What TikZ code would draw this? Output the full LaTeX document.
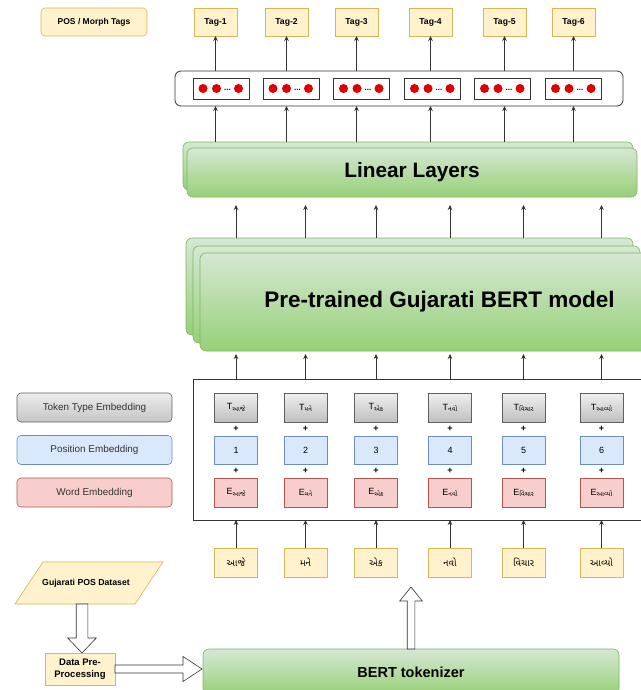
\documentclass[tikz,border=0pt]{standalone}
\usepackage{fontspec}
\setmainfont{Liberation Sans}
\newfontfamily\guj[Script=Gujarati]{Noto Sans Gujarati UI}
\usetikzlibrary{calc,arrows.meta}
\definecolor{yfill}{HTML}{FFF2CC}
\definecolor{ydraw}{HTML}{D6B656}
\definecolor{bfill}{HTML}{DAE8FC}
\definecolor{bdraw}{HTML}{6C8EBF}
\definecolor{rfill}{HTML}{F8CECC}
\definecolor{rdraw}{HTML}{B85450}
\definecolor{gtop}{HTML}{D5E8D4}
\definecolor{gbot}{HTML}{97D077}
\definecolor{gdraw}{HTML}{82B366}
\definecolor{dotred}{HTML}{E00000}
\definecolor{ln}{HTML}{333333}
\tikzset{
  every node/.style={inner sep=0pt, outer sep=0pt},
  arr/.style={draw=ln, line width=0.75pt, -{Stealth[length=5pt,width=4.5pt]}},
  ybox/.style={draw=ydraw, fill=yfill, line width=0.6pt, font=\fontsize{8.6}{11}\selectfont\bfseries},
  wbox/.style={draw=ydraw, fill=yfill, line width=0.6pt, minimum width=43pt, minimum height=29pt, font=\fontsize{9.5}{11}\selectfont\guj},
  tbox/.style={draw=gray!75!black, top color=gray!12, bottom color=gray!50, line width=0.6pt, minimum width=43pt, minimum height=29pt, font=\fontsize{9}{11}\selectfont},
  pbox/.style={draw=bdraw, fill=bfill, line width=0.6pt, minimum width=43pt, minimum height=28pt, font=\fontsize{9}{11}\selectfont},
  ebox/.style={draw=rdraw, fill=rfill, line width=0.6pt, minimum width=43pt, minimum height=29pt, font=\fontsize{9}{11}\selectfont},
  legend/.style={rounded corners=4pt, line width=0.6pt, minimum width=155pt, minimum height=29pt, font=\fontsize{9.9}{11}\selectfont, text=ln},
  green/.style={draw=gdraw, top color=gtop, bottom color=gbot, rounded corners=6pt, line width=0.6pt},
  dotbox/.style={draw=ln, line width=0.8pt, minimum width=56pt, minimum height=21pt},
  hollow/.style={draw=ln, fill=white, line width=0.6pt},
  plus/.style={font=\fontsize{9}{11}\selectfont\bfseries}
}
\newcommand{\sub}[2]{#1\raisebox{-0.25ex}{\fontsize{6.5}{7}\selectfont\guj #2}}
\begin{document}
\begin{tikzpicture}[x=1pt,y=-1pt]
\useasboundingbox (0,0) rectangle (640,690);
\fill[white] (0,0) rectangle (640,690);

% ---- top tags
\node[ybox, rounded corners=4pt, minimum width=106pt, minimum height=28pt, font=\fontsize{8.5}{11}\selectfont\bfseries] (postags) at (94,22) {POS / Morph Tags};
\foreach \i/\x in {1/215.5,2/286.5,3/356.5,4/430.5,5/504.5,6/573.5}{
  \node[ybox, minimum width=43pt, minimum height=28pt] (tag\i) at (\x,22) {Tag-\i};
}

% ---- dots container
\node[draw=ln, line width=0.8pt, rounded corners=6pt, minimum width=448pt, minimum height=35pt] (dots) at (399,88.5) {};
\foreach \i/\x in {1/221,2/291,3/361.5,4/432.5,5/502.5,6/573.5}{
  \node[dotbox] (db\i) at (\x,88.5) {};
  \fill[dotred] ([xshift=10pt]db\i.west) circle (4.5pt);
  \fill[dotred] ([xshift=23.5pt]db\i.west) circle (4.5pt);
  \node[font=\fontsize{8}{9}\selectfont\bfseries] (dd\i) at ([xshift=34.5pt,yshift=-1pt]db\i.west) {...};
  \fill[dotred] ([xshift=45.5pt]db\i.west) circle (4.5pt);
}

% ---- linear layers
\node[green, minimum width=450pt, minimum height=48pt] (linb) at (408,166) {};
\node[green, minimum width=450pt, minimum height=49pt, font=\fontsize{20.8}{24}\selectfont\bfseries] (linf) at (412,172.5) {Linear Layers};

% ---- BERT model
\node[green, minimum width=447pt, minimum height=97pt] (bertb) at (409.5,286.5) {};
\node[green, minimum width=447pt, minimum height=97pt] (bertm) at (416.5,294.5) {};
\node[green, minimum width=447pt, minimum height=98pt, font=\fontsize{22.5}{26}\selectfont\bfseries] (bertf) at (423.5,302) {\hspace*{32pt}Pre-trained Gujarati BERT model};

% ---- legend
\node[legend, draw=gray!75!black, top color=gray!15, bottom color=gray!45] (lt) at (94.5,407.5) {Token Type Embedding};
\node[legend, draw=bdraw, fill=bfill] (lp) at (94.5,450) {Position Embedding};
\node[legend, draw=rdraw, fill=rfill] (le) at (94.5,492.5) {Word Embedding};

% ---- embedding container
\node[draw=ln, line width=0.8pt, minimum width=452pt, minimum height=141pt] (emb) at (419,449.5) {};

\foreach \i/\x/\w in {1/236/આજે,2/305.5/મને,3/376/એક,4/450/નવો,5/523.5/વિચાર,6/601.5/આવ્યો}{
  \node[tbox] (t\i) at (\x,407.5) {\sub{T}{\w}};
  \node[plus] (pa\i) at (\x,429) {+};
  \node[pbox] (p\i) at (\x,450) {\i};
  \node[plus] (pb\i) at (\x,471) {+};
  \node[ebox] (e\i) at (\x,492.5) {\sub{E}{\w}};
  \node[wbox] (w\i) at (\x,562.5) {\w};
  \draw[arr] (w\i.north) -- (w\i.north |- emb.south);
  \draw[arr, shorten >=3pt] (t\i.center |- emb.north) -- (t\i.center |- bertf.south);
  \draw[arr, shorten >=8pt] (t\i.center |- bertb.north) -- (t\i.center |- linf.south);
}
\foreach \i in {1,...,6}{
  \draw[arr] (tag\i.center |- linb.north) -- (tag\i.center |- dots.south);
  \draw[arr] (tag\i.center |- dots.north) -- (tag\i.south);
}

% ---- tokenizer and input
\node[green, minimum width=416pt, minimum height=46pt, font=\fontsize{14.5}{17}\selectfont\bfseries] (tok) at (411,672) {BERT tokenizer};
\draw[hollow] ($(tok.north)+(-3.8,0)$) -- ++(0,-48) -- ++(-7.5,0) -- ++(11.3,-14) -- ++(11.3,14) -- ++(-7.5,0) -- ++(0,48) -- cycle;

\draw[draw=ydraw, fill=yfill, line width=0.6pt] (15,604) -- (43,562) -- (163,562) -- (135,604) -- cycle;
\node[font=\fontsize{8.7}{11}\selectfont\bfseries] (ds) at (86,583) {Gujarati POS Dataset};

\node[ybox, minimum width=70pt, minimum height=32pt, align=center, font=\fontsize{9.5}{12}\selectfont\bfseries] (pre) at (80,669) {Data Pre-\\Processing};

\draw[hollow] (82-5.8,604) -- (82-5.8,638) -- (82-14.3,638) -- (82,653) -- (82+14.3,638) -- (82+5.8,638) -- (82+5.8,604) -- cycle;
\draw[hollow] (pre.east) -- ++(0,-4) -- ++(68,0) -- ++(0,-8.5) -- ++(19,12.5) -- ++(-19,12.5) -- ++(0,-8.5) -- ++(-68,0) -- cycle;
\end{tikzpicture}
\end{document}
